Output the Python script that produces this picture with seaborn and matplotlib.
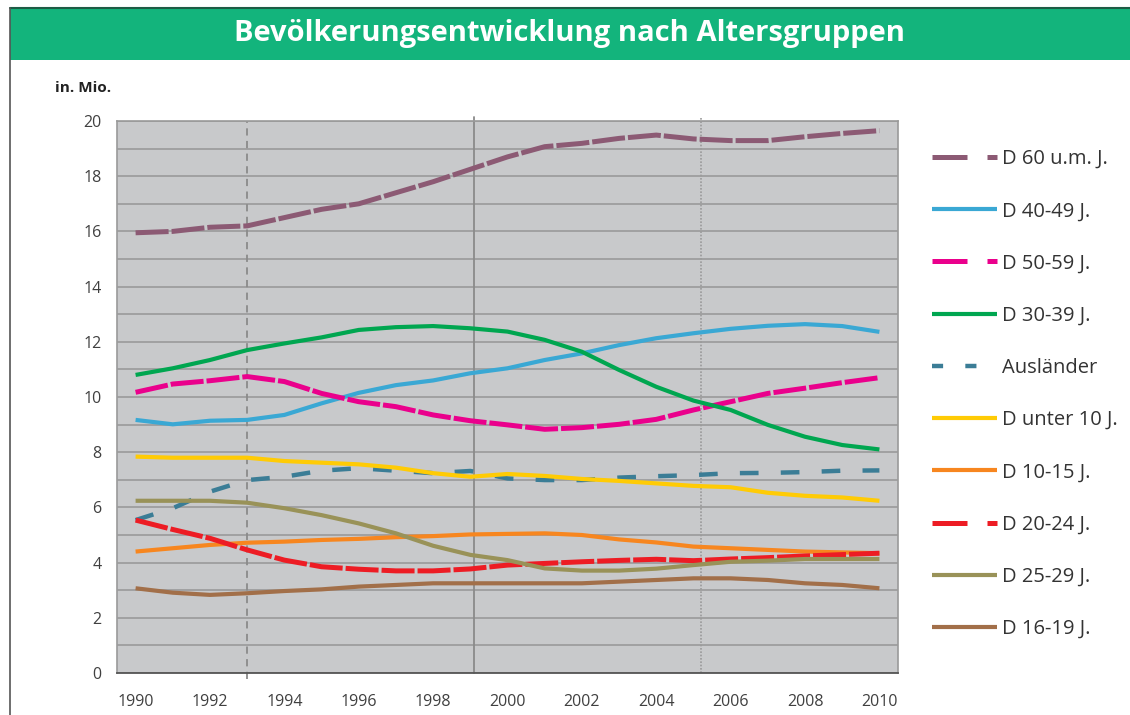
import numpy as np
import pandas as pd
import matplotlib.pyplot as plt
import seaborn as sns
from matplotlib.lines import Line2D
from matplotlib.patches import Rectangle

# Daten (in Mio.)
jahre = list(range(1990, 2011))

d_60_plus = [15.95, 16.0, 16.15, 16.2, 16.5, 16.8, 17.0, 17.4, 17.8, 18.25, 18.7,
             19.07, 19.19, 19.37, 19.49, 19.35, 19.29, 19.29, 19.43, 19.55, 19.65]
d_40_49 = [9.17, 9.01, 9.14, 9.17, 9.35, 9.77, 10.15, 10.43, 10.6, 10.86, 11.04,
           11.34, 11.58, 11.88, 12.13, 12.31, 12.47, 12.58, 12.64, 12.57, 12.36]
d_50_59 = [10.17, 10.47, 10.59, 10.74, 10.56, 10.13, 9.83, 9.65, 9.35, 9.14, 8.99,
           8.83, 8.89, 9.01, 9.19, 9.53, 9.83, 10.13, 10.32, 10.52, 10.7]
d_30_39 = [10.8, 11.04, 11.34, 11.7, 11.94, 12.16, 12.43, 12.53, 12.57, 12.49, 12.37,
           12.07, 11.64, 10.98, 10.37, 9.87, 9.53, 8.99, 8.56, 8.26, 8.1]
auslaender = [5.54, 5.97, 6.57, 6.99, 7.11, 7.33, 7.42, 7.33, 7.24, 7.32, 7.05,
              6.99, 6.99, 7.08, 7.13, 7.17, 7.24, 7.25, 7.28, 7.33, 7.34]
d_unter_10 = [7.84, 7.8, 7.8, 7.8, 7.68, 7.62, 7.56, 7.44, 7.24, 7.11, 7.21,
              7.14, 7.03, 6.96, 6.87, 6.78, 6.73, 6.53, 6.42, 6.36, 6.24]
d_10_15 = [4.4, 4.52, 4.64, 4.72, 4.76, 4.82, 4.86, 4.92, 4.96, 5.02, 5.04,
           5.06, 5.0, 4.84, 4.73, 4.58, 4.52, 4.46, 4.4, 4.37, 4.34]
d_20_24 = [5.54, 5.2, 4.88, 4.46, 4.09, 3.85, 3.76, 3.7, 3.7, 3.77, 3.91,
           3.97, 4.03, 4.08, 4.12, 4.07, 4.13, 4.18, 4.24, 4.29, 4.34]
d_25_29 = [6.24, 6.24, 6.24, 6.17, 5.97, 5.72, 5.42, 5.06, 4.61, 4.28, 4.09,
           3.79, 3.71, 3.71, 3.78, 3.91, 4.03, 4.07, 4.13, 4.13, 4.13]
d_16_19 = [3.07, 2.91, 2.83, 2.89, 2.97, 3.03, 3.13, 3.19, 3.25, 3.25, 3.25,
           3.25, 3.25, 3.31, 3.37, 3.43, 3.43, 3.37, 3.25, 3.19, 3.07]

gruppen = ["D 60 u.m. J.", "D 40-49 J.", "D 50-59 J.", "D 30-39 J.", "Ausländer",
           "D unter 10 J.", "D 10-15 J.", "D 20-24 J.", "D 25-29 J.", "D 16-19 J."]
werte = [d_60_plus, d_40_49, d_50_59, d_30_39, auslaender,
         d_unter_10, d_10_15, d_20_24, d_25_29, d_16_19]
farben = ["#8c5a74", "#3aa8d4", "#ea008c", "#00a650", "#3b7d96",
          "#ffcb05", "#f7861f", "#ed1c24", "#999258", "#a26f49"]

# Linienstile: (Stil im Diagramm, Stil in der Legende, Breite)
lang = (0, (6.6, 0.6))
lang_leg = (0, (7, 4))
kurz = (0, (4.2, 5))
kurz_leg = (0, (2.5, 5))
stile = {
    "D 60 u.m. J.": (lang, lang_leg, 3.6),
    "D 50-59 J.": (lang, lang_leg, 3.6),
    "D 20-24 J.": (lang, lang_leg, 3.6),
    "Ausländer": (kurz, kurz_leg, 3.2),
}

tabelle = pd.concat([pd.DataFrame({"Jahr": jahre, "Wert": w, "Gruppe": g})
                     for g, w in zip(gruppen, werte)], ignore_index=True)

sns.set_style("white")
plt.rcParams["font.family"] = ["Open Sans", "DejaVu Sans"]

fig = plt.figure(figsize=(11.3, 7.15), dpi=100)
ax = fig.add_axes([117 / 1130, 42 / 715, 781 / 1130, 552 / 715])
ax.set_facecolor("#c8c9cb")

# Titelbalken
fig.patches.append(Rectangle((10 / 1130, 655 / 715), 1120 / 1130, 52 / 715,
                             transform=fig.transFigure, facecolor="#13b47c",
                             edgecolor="none", zorder=0))
fig.lines.append(Line2D([10 / 1130, 1], [707 / 715, 707 / 715], transform=fig.transFigure,
                        color="#1d5c45", lw=1.5))
fig.lines.append(Line2D([10 / 1130, 10 / 1130], [0, 707 / 715], transform=fig.transFigure,
                        color="#555555", lw=1.2))
fig.text(570 / 1130, 681 / 715, "Bevölkerungsentwicklung nach Altersgruppen",
         ha="center", va="center", color="white", fontsize=21, fontweight="bold")
fig.text(55 / 1130, 627 / 715, "in. Mio.", ha="left", va="center",
         fontsize=11, fontweight="bold", color="#222222")

handles = []
for g, f in zip(gruppen, farben):
    teil = tabelle[tabelle["Gruppe"] == g]
    ls, ls_leg, lw = stile.get(g, ("-", "-", 3.0))
    sns.lineplot(data=teil, x="Jahr", y="Wert", color=f, linewidth=lw, linestyle=ls,
                 ax=ax, legend=False, solid_capstyle="butt", dash_capstyle="butt",
                 zorder=3)
    handles.append(Line2D([], [], color=f, linewidth=lw, linestyle=ls_leg,
                          solid_capstyle="butt", dash_capstyle="butt"))

# senkrechte Markierungslinien
ax.axvline(1993, ymin=-0.01, ymax=1.0, color="#8a8a8a", lw=1.3, ls=(0, (4, 3)),
           zorder=2, clip_on=False)
ax.axvline(1999.1, ymin=0, ymax=1.008, color="#8a8a8a", lw=1.3, zorder=2, clip_on=False)
ax.axvline(2005.2, ymin=0, ymax=1.008, color="#9a9a9a", lw=1.2, ls=(0, (1, 1)),
           zorder=2, clip_on=False)

ax.set_xlim(1989.5, 2010.5)
ax.set_ylim(0, 20)
ax.set_xticks(range(1990, 2011, 2))
ax.set_xticks(np.arange(1989.5, 2011, 1), minor=True)
ax.set_yticks(range(0, 21, 2))
ax.set_yticks(range(1, 20, 2), minor=True)
ax.grid(axis="y", which="both", color="#9a9a9a", lw=1.2, zorder=1)
ax.set_axisbelow(True)
ax.tick_params(axis="x", which="major", length=0, pad=15, labelsize=11.5, labelcolor="#404040")
ax.tick_params(axis="x", which="minor", length=7, width=1.2, color="#555555", direction="out")
ax.tick_params(axis="y", which="both", length=0, pad=11, labelsize=11.5, labelcolor="#404040")
ax.set_xlabel("")
ax.set_ylabel("")
for s in ["top", "right", "left"]:
    ax.spines[s].set_color("#9a9a9a")
    ax.spines[s].set_linewidth(1.2)
ax.spines["bottom"].set_color("#555555")
ax.spines["bottom"].set_linewidth(1.3)

fig.legend(handles, gruppen, loc="upper left", bbox_to_anchor=(924 / 1130, 1 - 141 / 715),
           frameon=False, fontsize=14.5, handlelength=3.2, labelspacing=1.6,
           handletextpad=0.25, borderaxespad=0, labelcolor="#333333")

fig.savefig("out.png", dpi=100)
